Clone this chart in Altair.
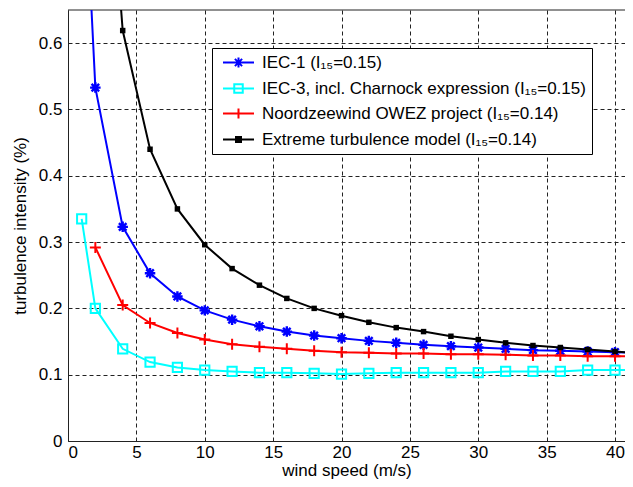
import altair as alt
import pandas as pd

# ---- data ----
wind_speed = [1, 2, 4, 6, 8, 10, 12, 14, 16, 18, 20, 22, 24, 26, 28, 30, 32, 34, 36, 38, 40, 42]

iec1 = [0.95, 0.533, 0.323, 0.253, 0.218, 0.197, 0.183, 0.173, 0.165, 0.159, 0.155,
        0.151, 0.148, 0.145, 0.143, 0.141, 0.139, 0.137, 0.136, 0.135, 0.134, 0.133]
iec3 = [0.335, 0.200, 0.139, 0.119, 0.111, 0.107, 0.105, 0.103, 0.103, 0.102, 0.101,
        0.102, 0.103, 0.103, 0.103, 0.103, 0.105, 0.105, 0.105, 0.107, 0.107, 0.107]
owez = [None, 0.292, 0.205, 0.178, 0.163, 0.153, 0.146, 0.142, 0.139, 0.136, 0.134,
        0.133, 0.132, 0.132, 0.131, 0.131, 0.130, 0.129, 0.129, 0.128, 0.128, 0.127]
etm = [None, 1.16, 0.619, 0.440, 0.350, 0.296, 0.260, 0.235, 0.215, 0.200, 0.189,
       0.179, 0.171, 0.165, 0.158, 0.153, 0.148, 0.144, 0.141, 0.138, 0.135, 0.132]

series_names = [
    "IEC-1 (I\u2081\u2085=0.15)",
    "IEC-3, incl. Charnock expression (I\u2081\u2085=0.15)",
    "Noordzeewind OWEZ project (I\u2081\u2085=0.14)",
    "Extreme turbulence model (I\u2081\u2085=0.14)",
]
series_values = [iec1, iec3, owez, etm]
series_colors = ["#0000ff", "#00ffff", "#ff0000", "#000000"]

x_ticks = [0, 5, 10, 15, 20, 25, 30, 35, 40]
y_ticks = [0, 0.1, 0.2, 0.3, 0.4, 0.5, 0.6]

rows = []
for name, vals in zip(series_names, series_values):
    for v, t in zip(wind_speed, vals):
        if t is not None:
            rows.append({"series": name, "wind": v, "ti": t})
df = pd.DataFrame(rows)

FONT = "Liberation Sans"
X_MAX = 40.73
Y_MAX = 0.65

x_enc = alt.X("wind:Q", scale=alt.Scale(domain=[0, X_MAX], nice=False, zero=False),
              axis=alt.Axis(values=x_ticks, title="wind speed (m/s)", format="d",
                            titleY=34, titleBaseline="alphabetic"))
y_enc = alt.Y("ti:Q", scale=alt.Scale(domain=[0, Y_MAX], nice=False),
              axis=alt.Axis(values=y_ticks, title="turbulence intensity (%)",
                            labelExpr="datum.value == 0 ? '0' : format(datum.value, '.1f')"))

asterisk = "M-1,0H1M0,-1V1M-0.72,-0.72L0.72,0.72M-0.72,0.72L0.72,-0.72"
plus = "M-1,0H1M0,-1V1"

marker_specs = [
    dict(shape=asterisk, size=110, filled=False, sw=2.4),
    dict(shape="square", size=85, filled=False, sw=2),
    dict(shape=plus, size=121, filled=False, sw=2),
    dict(shape="square", size=30, filled=True, sw=1),
]

base = alt.Chart(df)
layers = []
for name, col, ms in zip(series_names, series_colors, marker_specs):
    sub = base.transform_filter(alt.datum.series == name)
    line = sub.mark_line(color=col, strokeWidth=2, clip=True).encode(
        x=x_enc, y=y_enc, order="wind:Q")
    if ms["filled"]:
        pts = sub.mark_point(shape=ms["shape"], size=ms["size"], filled=True,
                             color=col, opacity=1, clip=True)
    else:
        pts = sub.mark_point(shape=ms["shape"], size=ms["size"], filled=False,
                             color=col, strokeWidth=ms["sw"], opacity=1, clip=True)
    pts = pts.encode(x=x_enc, y=y_enc)
    layers += [line, pts]

# top frame line
top_rule = alt.Chart(pd.DataFrame({"v": [Y_MAX]})).mark_rule(
    color="#222222", strokeWidth=1).encode(y=alt.Y("v:Q"))

# legend-only layer (empty data, explicit domains)
legend_paths = [
    "M-3.1,0H3.1M-1,0H1M0,-1V1M-0.72,-0.72L0.72,0.72M-0.72,0.72L0.72,-0.72",
    "M-3.1,0H3.1M-0.85,-0.85H0.85V0.85H-0.85Z",
    "M-3.1,0H3.1M0,-1V1",
    "M-3.1,0H3.1M-0.5,-0.5H0.5V0.5H-0.5Z",
]
legend_fills = ["#0000ff", "#ffffff", "#ff0000", "#000000"]
legend_layer = base.transform_filter("false").mark_point(filled=False, opacity=1).encode(
    x=x_enc, y=y_enc,
    stroke=alt.Stroke("series:N", scale=alt.Scale(domain=series_names, range=series_colors),
                      legend=alt.Legend(title=None)),
    fill=alt.Fill("series:N", scale=alt.Scale(domain=series_names, range=legend_fills),
                  legend=alt.Legend(title=None)),
    shape=alt.Shape("series:N", scale=alt.Scale(domain=series_names, range=legend_paths),
                    legend=alt.Legend(title=None)),
)

chart = alt.layer(top_rule, *layers, legend_layer).properties(
    width=557, height=431,
    autosize=alt.AutoSizeParams(type="none"),
    padding={"left": 60, "top": 2, "right": 0, "bottom": 38},
).configure_view(stroke=None).configure_axis(
    labelFont=FONT, labelFontSize=17, labelColor="#000000",
    titleFont=FONT, titleFontSize=17, titleFontWeight="normal", titleColor="#000000",
    domainColor="#222222", domainWidth=1,
    ticks=False, labelPadding=6,
    grid=True, gridColor="#222222", gridDash=[4, 3], gridWidth=1, gridOpacity=1,
).configure_axisX(labelPadding=3).configure_axisY(titlePadding=9).configure_legend(
    orient="none", legendX=144, legendY=38,
    strokeColor="#000000", fillColor="#ffffff", padding=6,
    labelFont=FONT, labelFontSize=17, labelColor="#000000", labelLimit=600,
    symbolSize=100, symbolStrokeWidth=2, symbolOffset=12, labelOffset=15,
    rowPadding=7, cornerRadius=0,
)

chart.save("out.html", embed_options={"renderer": "svg", "actions": False})
